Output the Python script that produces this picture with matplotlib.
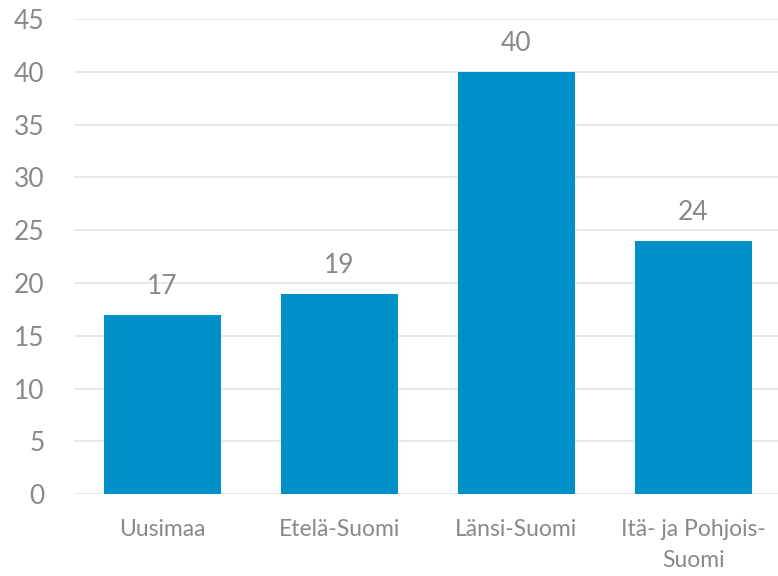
import numpy as np
import matplotlib.pyplot as plt

# -- data -- #
regions = ["Uusimaa", "Etelä-Suomi", "Länsi-Suomi", "Itä- ja Pohjois-\nSuomi"]
values = [17, 19, 40, 24]
yticks = list(range(0, 50, 5))

bar_color = "#0090C8"
text_color = "#898989"
grid_color = "#E6E6E6"

plt.rcParams['font.family'] = ['Lato', 'DejaVu Sans']

fig = plt.figure(figsize=(7.78, 5.76), dpi=100)
ax = fig.add_axes([0.095, 0.142, 0.910, 0.825])

x = np.arange(len(regions))
bars = ax.bar(x, values, width=0.665, color=bar_color, zorder=2)

ax.set_xlim(-0.5, len(regions) - 0.5)
ax.set_ylim(0, 45)
ax.set_yticks(yticks)
ax.set_xticks(x)
ax.set_xticklabels(regions, fontsize=16.5, color=text_color, linespacing=1.6)
ax.tick_params(axis='y', labelsize=19, colors=text_color, length=0, pad=21)
ax.tick_params(axis='x', length=0, pad=18)

ax.grid(axis='y', color=grid_color, linewidth=1.3, zorder=0)
for s in ax.spines.values():
    s.set_visible(False)

for b, v in zip(bars, values):
    ax.text(b.get_x() + b.get_width() / 2, v + 1.5, str(v),
            ha='center', va='bottom', fontsize=19, color=text_color)

fig.savefig("out.png", dpi=100)
